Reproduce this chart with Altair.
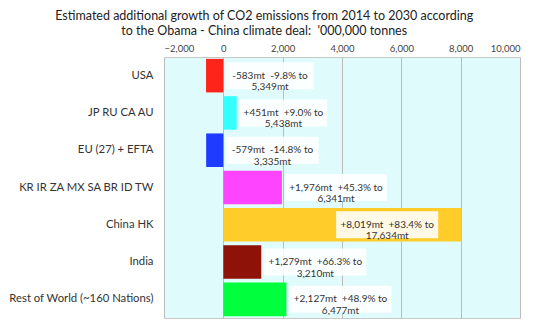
import altair as alt
import pandas as pd

categories = ["USA", "JP RU CA AU", "EU (27) + EFTA", "KR IR ZA MX SA BR ID TW",
              "China HK", "India", "Rest of World (~160 Nations)"]
growth = [-583, 451, -579, 1976, 8019, 1279, 2127]
pct = ["-9.8%", "+9.0%", "-14.8%", "+45.3%", "+83.4%", "+66.3%", "+48.9%"]
total_2030 = [5349, 5438, 3335, 6341, 17634, 3210, 6477]
colors = ["#FF2419", "#33FFFF", "#1F3BFF", "#FF44FF", "#FFCC2A", "#8E1208", "#00FF3C"]
x_ticks = [-2000, 0, 2000, 4000, 6000, 8000, 10000]

W, H = 356, 261
X_MIN, X_MAX = -2000, 10000
UPP = (X_MAX - X_MIN) / W  # data units per pixel

NB = "\u00a0"
labels = []
line1 = []
for g, p, t in zip(growth, pct, total_2030):
    l1 = f"{g:+,}mt{NB}{NB}{p} to"
    line1.append(l1)
    labels.append(f"{l1}\n{t:,}mt")

df = pd.DataFrame({"cat": categories, "growth": growth, "label": labels, "line1": line1})

FONT = "Lato"

base = alt.Chart(df)

ysc = alt.Scale(domain=categories, paddingInner=0.1, paddingOuter=0.05)
xsc = alt.Scale(domain=[X_MIN, X_MAX], nice=False, zero=False)

yaxis = alt.Axis(title=None, ticks=False, domain=False, labelPadding=11,
                 labelFontSize=11.3, labelColor="#333", labelFont=FONT, labelLimit=300)
xaxis = alt.Axis(orient="top", values=x_ticks, title=None,
                 labelExpr="format(datum.value, ',.0f')",
                 ticks=False, domain=False, labelPadding=4,
                 labelFontSize=9.5, labelColor="#444", labelFont=FONT,
                 grid=True, gridColor="#BDBDBD", gridWidth=1)

Y = alt.Y("cat:N", sort=categories, scale=ysc, axis=yaxis, title=None)

bars = base.mark_bar().encode(
    y=Y,
    x=alt.X("growth:Q", scale=xsc, axis=xaxis, title=None),
    x2=alt.datum(0),
    color=alt.Color("cat:N", scale=alt.Scale(domain=categories, range=colors), legend=None),
)

calc = base.transform_calculate(
    bw="length(datum.line1) * 4.9 + 9"
).transform_calculate(
    bx0=f"datum.growth > 6000 ? datum.growth - (23 + datum.bw) * {UPP} : max(datum.growth, 0) + 3 * {UPP}"
).transform_calculate(
    bx1=f"datum.bx0 + datum.bw * {UPP}"
).transform_calculate(
    bxc="(datum.bx0 + datum.bx1) / 2"
)

boxes = calc.mark_bar(size=27, color="white", opacity=0.88).encode(
    y=Y,
    x=alt.X("bx0:Q", scale=xsc, axis=xaxis, title=None),
    x2="bx1:Q",
)

texts = calc.mark_text(lineBreak="\n", fontSize=10, font=FONT, color="#333",
                       align="center", baseline="middle", lineHeight=11.5).encode(
    y=Y,
    x=alt.X("bxc:Q", scale=xsc, axis=xaxis, title=None),
    text="label:N",
)

chart = alt.layer(bars, boxes, texts).properties(
    width=W, height=H,
    autosize=alt.AutoSizeParams(type="none"),
    padding={"left": 164, "top": 57, "right": 20, "bottom": 8},
    background="white",
    title=alt.Title(
        ["Estimated additional growth of CO2 emissions from 2014 to 2030 according",
         f"to the Obama - China climate deal:{NB}{NB}'000,000 tonnes"],
        fontSize=12.5, font=FONT, fontWeight="normal", color="#222",
        anchor="middle", frame="bounds", offset=6, lineHeight=15),
).configure_view(fill="#E0FBFB", stroke="#C8C8C8")

chart.save("out.html", embed_options={"renderer": "svg", "actions": False})
